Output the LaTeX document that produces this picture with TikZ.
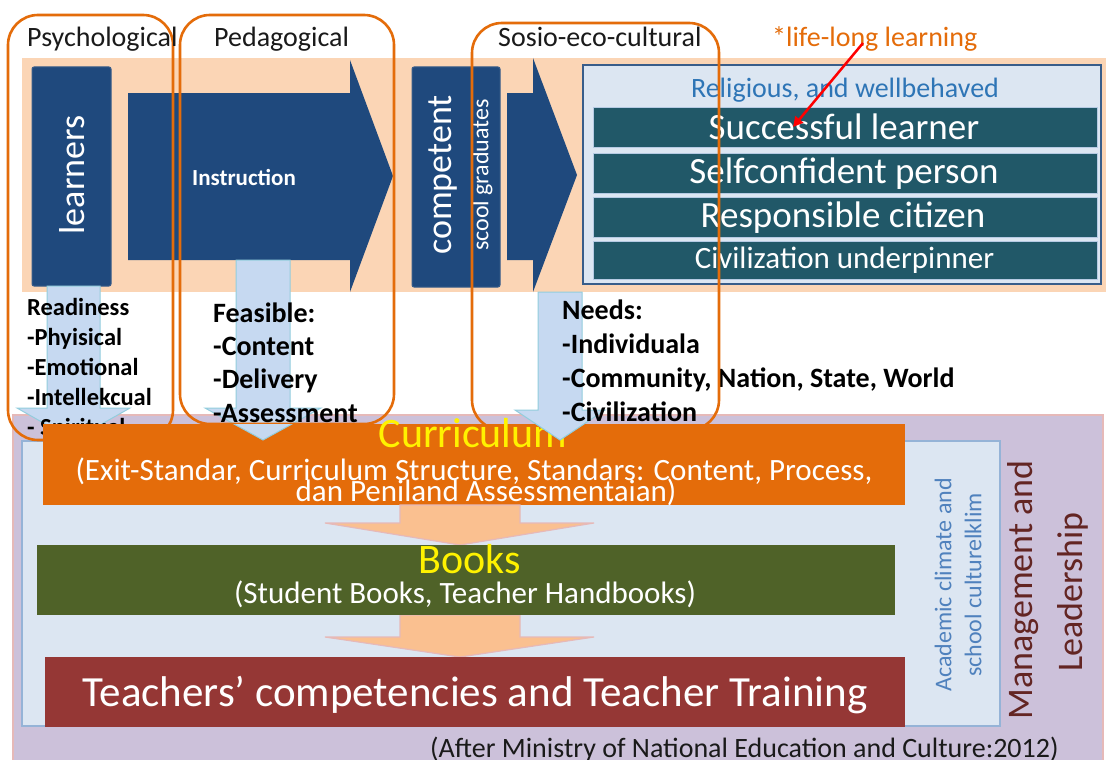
\documentclass[tikz,border=0pt]{standalone}
\usepackage{fontspec}
\setmainfont{Carlito}
\usetikzlibrary{arrows.meta}
\definecolor{peach}{HTML}{FBD5B5}
\definecolor{purp}{HTML}{CCC1DA}
\definecolor{pinkb}{HTML}{E6B9B8}
\definecolor{lblue}{HTML}{DCE6F2}
\definecolor{lbluebord}{HTML}{95B3D7}
\definecolor{dblue}{HTML}{1F497D}
\definecolor{dbluebord}{HTML}{385D8A}
\definecolor{teal}{HTML}{215868}
\definecolor{obox}{HTML}{E46C0A}
\definecolor{curr}{HTML}{E46C0A}
\definecolor{books}{HTML}{4F6228}
\definecolor{teach}{HTML}{953735}
\definecolor{salmon}{HTML}{FAC090}
\definecolor{sarrow}{HTML}{C6D9F1}
\definecolor{sarrowb}{HTML}{93CDDD}
\definecolor{relblue}{HTML}{2E75B6}
\definecolor{acblue}{HTML}{4F81BD}
\definecolor{mgmt}{HTML}{632523}
\definecolor{txt}{HTML}{1A1A1A}
\newcommand\myfs[1]{\fontsize{#1}{#1}\selectfont}
\tikzset{
  darkbox/.style={fill=dblue, draw=dbluebord, line width=1pt, rounded corners=2pt, inner sep=0pt},
  bar/.style={fill=teal, draw=lbluebord!70, line width=1pt, inner sep=0pt},
  bartext/.style={text=white, inner sep=0pt, anchor=base},
  toplabel/.style={text=txt, inner sep=0pt, anchor=base west, font=\myfs{28}},
  orangeframe/.style={draw=obox, line width=2.6pt, rounded corners=30pt},
  listtext/.style={text=black, inner sep=0pt, anchor=base west, font=\bfseries\myfs{28}},
  listsmall/.style={text=black, inner sep=0pt, anchor=base west, font=\bfseries\myfs{24.5}},
  downarrow/.style={fill=sarrow, draw=sarrowb, line width=1pt},
  salmonarrow/.style={fill=salmon, draw=pinkb, line width=1.2pt},
  whitetext/.style={text=white, inner sep=0pt, anchor=base},
}
\begin{document}
\begin{tikzpicture}[x=1pt,y=-1pt]
\useasboundingbox (0,0) rectangle (1106,760);
\fill[white] (0,0) rectangle (1106,760);
% backgrounds
\fill[peach] (22,58) rectangle (1106,292);
\draw[fill=purp, draw=pinkb, line width=1.5pt] (13,415) rectangle (1103,765);
\draw[fill=lblue, draw=lbluebord, line width=1.5pt] (22,441) rectangle (1000,726);

% learners
\node[darkbox, minimum width=79pt, minimum height=219pt] (learners) at (71.5,176.5) {};
\node[rotate=90, text=white, inner sep=0pt, font=\myfs{36}] (learnerst) at (72,175) {learners};

% Instruction arrow
\fill[dblue] (128,93) -- (350,93) -- (350,60) -- (393,176) -- (350,292) -- (350,260) -- (128,260) -- cycle;
\node[text=white, inner sep=0pt, font=\bfseries\myfs{23}] (instr) at (244,177) {Instruction};

% competent
\node[darkbox, minimum width=88pt, minimum height=220pt] (comp) at (456,177) {};
\node[rotate=90, text=white, inner sep=0pt, font=\myfs{36}] (compt) at (443,175) {competent};
\node[rotate=90, text=white, inner sep=0pt, font=\myfs{24}] (grad) at (482,175) {scool graduates};

% second arrow
\fill[dblue] (507,93) -- (533,93) -- (533,58) -- (577,175) -- (533,292) -- (533,260) -- (507,260) -- cycle;

% right box
\node[fill=lblue, draw=dbluebord, line width=2pt, minimum width=518pt, minimum height=219pt, inner sep=0pt] (goals) at (842,174.5) {};
\node[text=relblue, inner sep=0pt, anchor=base, font=\myfs{28}] (relig) at (845,97) {Religious, and wellbehaved};
\node[bar, minimum width=504pt, minimum height=40pt] (b1) at (845,127) {};
\node[bar, minimum width=504pt, minimum height=40pt] (b2) at (845,173) {};
\node[bar, minimum width=504pt, minimum height=40pt] (b3) at (845,217) {};
\node[bar, minimum width=504pt, minimum height=38pt] (b4) at (845,260) {};
\node[bartext, font=\myfs{37}] (t1) at (844,139) {Successful learner};
\node[bartext, font=\myfs{37}] (t2) at (844,183) {Selfconfident person};
\node[bartext, font=\myfs{37}] (t3) at (843,227) {Responsible citizen};
\node[bartext, font=\myfs{31}] (t4) at (844.5,268) {Civilization underpinner};

% light blue down arrows
\path[downarrow] (47,286) -- (100,286) -- (100,408) -- (130,408) -- (73.5,440) -- (17,408) -- (47,408) -- cycle;
\path[downarrow] (236,260) -- (290,260) -- (290,408) -- (321,408) -- (263,440) -- (205,408) -- (236,408) -- cycle;
\path[downarrow] (538,292) -- (582,292) -- (582,410) -- (605,410) -- (560,440) -- (515,410) -- (538,410) -- cycle;

% lists
\node[listsmall] (r0) at (27,315) {Readiness};
\node[listsmall] (r1) at (27,345) {-Phyisical};
\node[listsmall] (r2) at (27,375) {-Emotional};
\node[listsmall] (r3) at (27,405) {-Intellekcual};
\node[listsmall] (r4) at (27,435) {- Spiritual};
\node[listtext] (f0) at (213,322) {Feasible:};
\node[listtext] (f1) at (213,355) {-Content};
\node[listtext] (f2) at (213,388) {-Delivery};
\node[listtext] (f3) at (213,422) {-Assessment};
\node[listtext] (n0) at (562,319) {Needs:};
\node[listtext] (n1) at (562,353) {-Individuala};
\node[listtext] (n2) at (562,387) {-Community, Nation, State, World};
\node[listtext] (n3) at (562,421) {-Civilization};

% orange frames
\draw[orangeframe] (8,15) rectangle (173,440);
\draw[orangeframe] (180,15) rectangle (394,424);
\draw[orangeframe] (472,23) rectangle (719,430);
\node[toplabel] (psy) at (27,47) {Psychological};
\node[toplabel] (ped) at (214,47) {Pedagogical};
\node[toplabel] (sos) at (498,47) {Sosio-eco-cultural};

% curriculum
\node[fill=curr, minimum width=862pt, minimum height=81pt, inner sep=0pt] (curric) at (474,464.5) {};
\node[text=yellow, inner sep=0pt, anchor=base, font=\myfs{42}] (currt) at (473,447) {Curriculum};
\node[whitetext, font=\myfs{31}] (c1) at (474,480) {(Exit-Standar, Curriculum Structure, Standars: Content, Process,};
\node[whitetext, font=\myfs{31}] (c2) at (486,501) {dan Peniland Assessmentaian)};
\begin{scope}
\clip (0,424) rectangle (1106,460);
\path[downarrow] (236,260) -- (290,260) -- (290,408) -- (321,408) -- (263,440) -- (205,408) -- (236,408) -- cycle;
\path[downarrow] (538,292) -- (582,292) -- (582,410) -- (605,410) -- (560,440) -- (515,410) -- (538,410) -- cycle;
\end{scope}

% salmon arrows
\path[salmonarrow] (400,505) -- (520,505) -- (520,523) -- (594,523) -- (460,545) -- (325,523) -- (400,523) -- cycle;
\path[salmonarrow] (400,615) -- (520,615) -- (520,637) -- (594,637) -- (460,657) -- (325,637) -- (400,637) -- cycle;

% books
\node[fill=books, minimum width=858pt, minimum height=70pt, inner sep=0pt] (bk) at (466,580) {};
\node[text=yellow, inner sep=0pt, anchor=base, font=\myfs{42}] (bkt) at (470,573) {Books};
\node[whitetext, font=\myfs{31}] (bk1) at (465,603) {(Student Books, Teacher Handbooks)};

% teachers
\node[fill=teach, minimum width=860pt, minimum height=70pt, inner sep=0pt] (tc) at (475,692) {};
\node[whitetext, font=\myfs{43}] (tct) at (475,706) {Teachers’ competencies and Teacher Training};

% side texts
\node[rotate=90, text=acblue, inner sep=0pt, font=\myfs{24}] (ac1) at (943,585) {Academic climate and};
\node[rotate=90, text=acblue, inner sep=0pt, font=\myfs{24}] (ac2) at (973,585) {school culturelklim};
\node[rotate=90, text=mgmt, inner sep=0pt, font=\myfs{36}] (m1) at (1023,590) {Management and};
\node[rotate=90, text=mgmt, inner sep=0pt, font=\myfs{36}] (m2) at (1073,592) {Leadership};

% footer
\node[text=txt, inner sep=0pt, anchor=base west, font=\myfs{28}] (foot) at (430,757) {(After Ministry of National Education and Culture:2012)};

% life-long learning
\node[text=obox, inner sep=0pt, anchor=base west, font=\myfs{28}] (lll) at (772,47) {*life-long learning};
\coordinate (ra) at (863,43);
\coordinate (rb) at (793,127);
\draw[red, line width=2.5pt, -{Triangle[length=10pt,width=10pt]}] (ra) -- (rb);
\end{tikzpicture}
\end{document}
